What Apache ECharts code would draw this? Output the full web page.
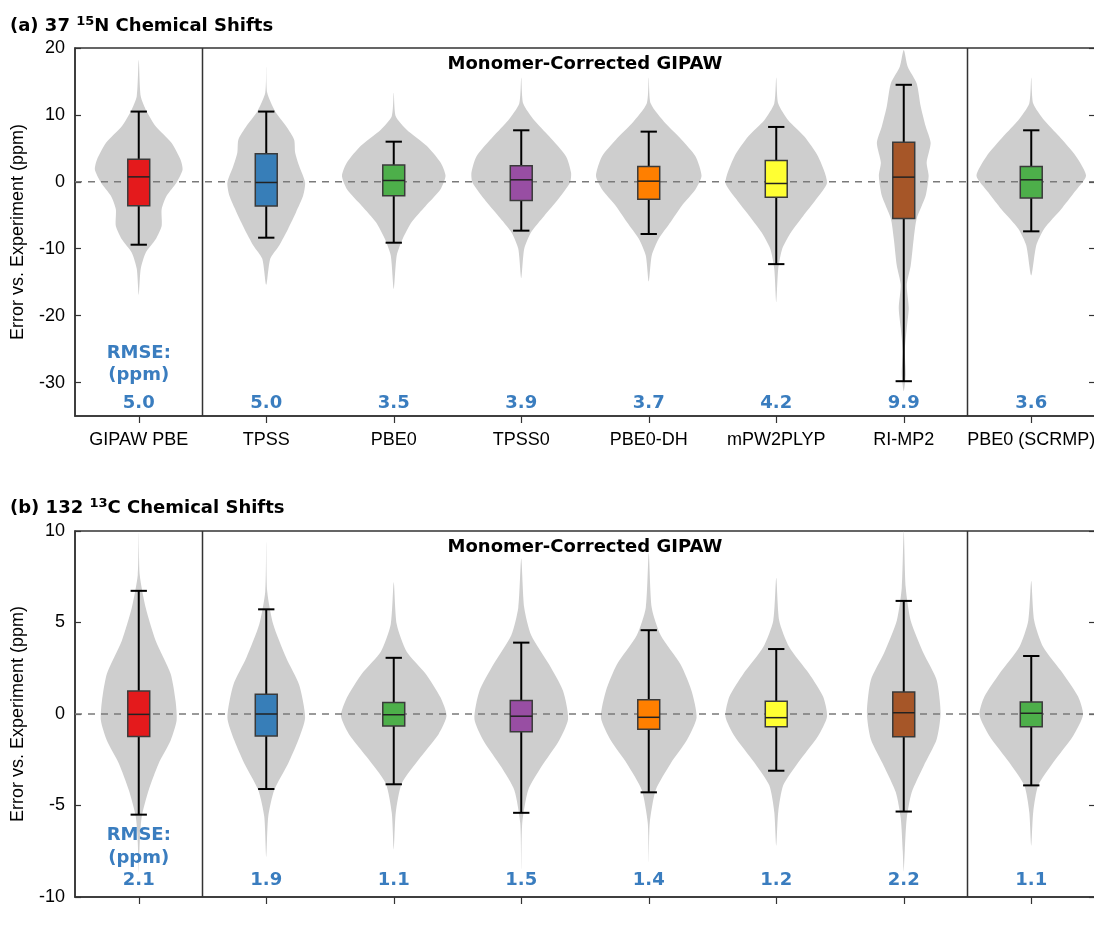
<!DOCTYPE html>
<html>
<head>
<meta charset="utf-8">
<script src="https://cdn.jsdelivr.net/npm/echarts@6/dist/echarts.min.js"></script>
<style>html,body{margin:0;padding:0;background:#fff}#c{width:1094px;height:935px}</style>
</head>
<body>
<div id="c"></div>
<script>
// ---------------- data ----------------
const categories = ['GIPAW PBE','TPSS','PBE0','TPSS0','PBE0-DH','mPW2PLYP','RI-MP2','PBE0 (SCRMP)'];
const yTicksN = [-30,-20,-10,0,10,20];
const yTicksC = [-10,-5,0,5,10];

// box stats: [lower whisker, Q1, median, Q3, upper whisker]
const boxN = [
  [-9.4,-3.56,0.74,3.37,10.5],
  [-8.35,-3.6,-0.1,4.2,10.5],
  [-9.1,-2.1,0.2,2.5,6.0],
  [-7.3,-2.8,0.3,2.4,7.7],
  [-7.8,-2.6,0.1,2.3,7.5],
  [-12.3,-2.3,-0.25,3.2,8.2],
  [-29.8,-5.5,0.7,5.9,14.5],
  [-7.4,-2.4,0.3,2.3,7.7]
];
const boxC = [
  [-5.5,-1.23,-0.02,1.26,6.73],
  [-4.1,-1.2,0.0,1.08,5.72],
  [-3.84,-0.65,-0.04,0.63,3.07],
  [-5.4,-0.97,-0.12,0.74,3.9],
  [-4.28,-0.83,-0.18,0.78,4.58],
  [-3.1,-0.69,-0.2,0.69,3.55],
  [-5.33,-1.24,0.07,1.2,6.18],
  [-3.9,-0.7,0.04,0.65,3.17]
];
const rmseN = [5.0,5.0,3.5,3.9,3.7,4.2,9.9,3.6];
const rmseC = [2.1,1.9,1.1,1.5,1.4,1.2,2.2,1.1];

// violin profiles: [value (ppm), relative density (half-width in 1/128 of a category band)]
const violinN = [
  [[18.2,0],[12.8,2],[10.5,8],[8.3,17],[5.8,33],[3.3,42],[1.8,44],[-0.1,38],[-2.1,28],[-4.1,23],[-6.6,23],[-8.6,17],[-10.6,7],[-13.0,2],[-16.9,0]],
  [[17.2,0],[13.3,1],[10.5,9],[8.3,20],[6.3,28],[4.4,29],[2.4,33],[-0.1,39],[-2.1,37],[-4.5,30],[-7,22],[-9.5,13],[-11.5,4],[-15.4,0]],
  [[13.3,0],[9.8,2],[7.8,13],[5.4,33],[2.9,47],[0.9,52],[-1.1,47],[-3.6,32],[-6.0,18],[-8.5,9],[-11,3],[-16,0]],
  [[15.6,0],[11.7,2],[9.2,13],[6.8,28],[3.8,45],[1.4,50],[-0.1,49],[-2.6,37],[-5.1,23],[-7.5,10],[-10,3],[-14.4,0]],
  [[15.6,0],[11.7,2],[8.7,17],[6.3,33],[3.8,47],[0.9,53],[-1.1,47],[-3.6,33],[-6.0,22],[-8.5,10],[-11,3],[-14.9,0]],
  [[15.6,0],[11.7,2],[9.2,12],[6.8,28],[3.8,42],[-0.1,51],[-2.6,40],[-5.1,27],[-7.5,15],[-10,6],[-13,2],[-18,0]],
  [[19.7,0],[17.2,4],[14.7,13],[11.3,17],[8.3,22],[5.8,27],[2.9,23],[0.9,25],[-2.1,22],[-5.5,13],[-8.5,10],[-12.5,7],[-15.4,3],[-18.9,5],[-21.9,3],[-25.3,1],[-28.8,2],[-31.3,0]],
  [[15.6,0],[11.7,2],[9.2,13],[6.8,28],[3.8,45],[0.9,55],[-1.6,43],[-4.1,30],[-7,13],[-9.5,5],[-14,0]]
];
const violinC = [
  [[9.9,0],[7.6,1],[5.8,7],[4.0,17],[2.2,32],[0.7,37],[-0.36,38],[-1.45,32],[-2.7,20],[-4.15,10],[-5.6,3],[-7.0,1],[-8.7,0]],
  [[9.4,0],[6.7,1],[4.9,7],[3.07,20],[1.6,33],[-0.2,39],[-1.45,32],[-2.7,22],[-4.15,8],[-5.6,2],[-7.8,0]],
  [[7.2,0],[4.9,3],[3.4,13],[2.2,32],[0.9,47],[-0.1,53],[-1.1,45],[-2.35,27],[-3.8,8],[-5.4,2],[-7.4,0]],
  [[8.5,0],[5.8,3],[4.3,10],[2.7,28],[1.26,42],[-0.27,47],[-1.45,38],[-2.9,20],[-4.15,7],[-5.96,1],[-8.5,0]],
  [[8.8,0],[5.8,3],[4.3,12],[2.7,32],[1.26,43],[-0.2,48],[-1.45,38],[-2.7,22],[-4.15,7],[-5.96,1],[-8.1,0]],
  [[7.45,0],[5.1,3],[3.66,13],[2.2,33],[0.95,47],[-0.13,51],[-1.2,42],[-2.65,22],[-3.9,7],[-5.36,2],[-7.2,0]],
  [[10,0],[6.9,2],[5.1,7],[3.3,20],[1.86,33],[0.05,37],[-1.4,33],[-2.84,20],[-4.28,8],[-5.7,3],[-7.5,1],[-8.6,0]],
  [[7.27,0],[5.1,3],[3.66,12],[2.2,32],[0.95,47],[-0.04,52],[-1.2,42],[-2.65,22],[-3.9,7],[-5.36,2],[-7.2,0]]
];

// ---------------- styles ----------------
const boxColors = ['#e41a1c','#377eb8','#4daf4a','#984ea3','#ff7f00','#ffff33','#a65628','#4daf4a'];
const RMSE_COLOR = '#3a7dbf';
const AXIS_COLOR = '#333';
const VIOLIN_COLOR = '#cecece';
const LABEL_FONT = '"Liberation Sans", Arial, sans-serif';
const BOLD_FONT = '"DejaVu Sans", sans-serif';

const chart = echarts.init(document.getElementById('c'), null, {renderer:'canvas'});

function violinRender(profiles) {
  return function (params, api) {
    const i = api.value(0);
    const prof = profiles[i];
    const bw = api.size([1, 0])[0];
    const cx = api.coord([i, 0])[0];
    const left = [], right = [];
    prof.forEach(function (p) {
      const y = api.coord([i, p[0]])[1];
      const w = p[1] / 128 * bw;
      left.push([cx - w, y]);
      if (p[1] > 0) right.push([cx + w, y]);
    });
    const pts = left.concat(right.reverse());
    return {type:'polygon', shape:{points: pts, smooth: 0.22}, style:{fill: VIOLIN_COLOR}, silent:true};
  };
}

function boxRender(stats) {
  return function (params, api) {
    const i = api.value(0);
    const s = stats[i];
    const bw = api.size([1, 0])[0];
    const cx = api.coord([i, 0])[0];
    const Y = function (v) { return api.coord([i, v])[1]; };
    const hb = bw * 0.086, hc = bw * 0.064;
    const wl = {stroke:'#000', lineWidth:2};
    return {type:'group', children:[
      {type:'line', shape:{x1:cx, y1:Y(s[0]), x2:cx, y2:Y(s[1])}, style:wl},
      {type:'line', shape:{x1:cx, y1:Y(s[3]), x2:cx, y2:Y(s[4])}, style:wl},
      {type:'line', shape:{x1:cx-hc, y1:Y(s[0]), x2:cx+hc, y2:Y(s[0])}, style:wl},
      {type:'line', shape:{x1:cx-hc, y1:Y(s[4]), x2:cx+hc, y2:Y(s[4])}, style:wl},
      {type:'rect', shape:{x:cx-hb, y:Y(s[3]), width:2*hb, height:Y(s[1])-Y(s[3])},
        style:{fill: boxColors[i], stroke:'#3a3a3a', lineWidth:1.5}},
      {type:'line', shape:{x1:cx-hb, y1:Y(s[2]), x2:cx+hb, y2:Y(s[2])}, style:{stroke:'#222', lineWidth:1.5}}
    ]};
  };
}

function refRender(params, api) {
  const cs = params.coordSys;
  const x0 = api.coord([0, 0])[0], x1 = api.coord([1, 0])[0];
  const x6 = api.coord([6, 0])[0], x7 = api.coord([7, 0])[0];
  const y0 = api.coord([0, 0])[1];
  return {type:'group', children:[
    {type:'line', shape:{x1:cs.x, y1:y0, x2:cs.x+cs.width, y2:y0}, style:{stroke:'#7a7a7a', lineWidth:1.5, lineDash:[7,6]}},
    {type:'line', shape:{x1:(x0+x1)/2, y1:cs.y, x2:(x0+x1)/2, y2:cs.y+cs.height}, style:{stroke:AXIS_COLOR, lineWidth:1.5}},
    {type:'line', shape:{x1:(x6+x7)/2, y1:cs.y, x2:(x6+x7)/2, y2:cs.y+cs.height}, style:{stroke:AXIS_COLOR, lineWidth:1.5}}
  ]};
}

function textRender(rmse, offV, offR, offP) {
  return function (params, api) {
    const cs = params.coordSys;
    const bottom = cs.y + cs.height;
    const ts = {fill: RMSE_COLOR, font: 'bold 18px ' + BOLD_FONT, align:'center', verticalAlign:'middle'};
    const ch = [];
    rmse.forEach(function (r, i) {
      const cx = api.coord([i, 0])[0];
      ch.push({type:'text', x:cx, y:bottom-offV, style:Object.assign({text:r.toFixed(1)}, ts)});
    });
    const c0 = api.coord([0, 0])[0];
    ch.push({type:'text', x:c0, y:bottom-offR, style:Object.assign({text:'RMSE:'}, ts)});
    ch.push({type:'text', x:c0, y:bottom-offP, style:Object.assign({text:'(ppm)'}, ts)});
    const c1 = api.coord([1, 0])[0], c6 = api.coord([6, 0])[0];
    ch.push({type:'text', x:(c1+c6)/2, y:cs.y+16, style:{text:'Monomer-Corrected GIPAW', fill:'#000', font:'bold 18px ' + BOLD_FONT, align:'center', verticalAlign:'middle'}});
    return {type:'group', children: ch};
  };
}

const idx = categories.map(function (c, i) { return [i, 0]; });

function xAxisDef(gridIndex, showLabels) {
  return {
    type:'category', gridIndex: gridIndex, data: categories, boundaryGap: true,
    axisLine:{show:true, onZero:false, lineStyle:{color:AXIS_COLOR, width:1.5}},
    axisTick:{show:true, alignWithLabel:true, length:7, inside:false, lineStyle:{color:AXIS_COLOR, width:1.2}},
    axisLabel:{show: showLabels, color:'#000', fontSize:18, fontFamily:LABEL_FONT, margin:15, interval:0, hideOverlap:false},
    splitLine:{show:false}
  };
}
function yAxisDef(gridIndex, min, max, ticks, left) {
  return {
    type:'value', gridIndex: gridIndex, min:min, max:max, position: left ? 'left' : 'right',
    name: left ? 'Error vs. Experiment (ppm)' : '', nameLocation:'middle', nameGap:48, nameRotate:90,
    nameTextStyle:{color:'#000', fontSize:18, fontFamily:LABEL_FONT},
    axisLine:{show:true, lineStyle:{color:AXIS_COLOR, width:1.5}},
    axisTick:{show:true, inside:true, length:6, customValues: ticks, lineStyle:{color:AXIS_COLOR, width:1.2}},
    axisLabel:{show: left, customValues: ticks, color:'#000', fontSize:18, fontFamily:LABEL_FONT, margin:10},
    splitLine:{show:false}
  };
}

const titleRich = {
  b:{fontSize:18, fontWeight:'bold', fontFamily:BOLD_FONT, color:'#000', lineHeight:22},
  s:{fontSize:13, fontWeight:'bold', fontFamily:BOLD_FONT, color:'#000', lineHeight:13, verticalAlign:'top'}
};

const option = {
  animation:false,
  backgroundColor:'#fff',
  title:[
    {left:10, top:15, padding:0, text:'{b|(a) 37 }{s|15}{b|N Chemical Shifts}', textStyle:{rich:titleRich}},
    {left:10, top:497, padding:0, text:'{b|(b) 132 }{s|13}{b|C Chemical Shifts}', textStyle:{rich:titleRich}}
  ],
  grid:[
    {left:75, top:48, width:1020, height:368, containLabel:false, outerBoundsMode:'none', show:true, borderColor:AXIS_COLOR, borderWidth:1.5, backgroundColor:'transparent'},
    {left:75, top:531, width:1020, height:366, containLabel:false, outerBoundsMode:'none', show:true, borderColor:AXIS_COLOR, borderWidth:1.5, backgroundColor:'transparent'}
  ],
  xAxis:[ xAxisDef(0, true), xAxisDef(1, false) ],
  yAxis:[
    yAxisDef(0, -35, 20, yTicksN, true),
    yAxisDef(0, -35, 20, yTicksN, false),
    yAxisDef(1, -10, 10, yTicksC, true),
    yAxisDef(1, -10, 10, yTicksC, false)
  ],
  series:[
    {type:'custom', xAxisIndex:0, yAxisIndex:0, z:2, data: idx, encode:{x:0, y:1}, renderItem: violinRender(violinN)},
    {type:'custom', xAxisIndex:0, yAxisIndex:0, z:3, data: [[0,0]], encode:{x:0, y:1}, renderItem: refRender},
    {type:'custom', xAxisIndex:0, yAxisIndex:0, z:4, data: idx, encode:{x:0, y:1}, renderItem: boxRender(boxN)},
    {type:'custom', xAxisIndex:0, yAxisIndex:0, z:5, data: [[0,0]], encode:{x:0, y:1}, renderItem: textRender(rmseN, 13, 63, 41)},
    {type:'custom', xAxisIndex:1, yAxisIndex:2, z:2, data: idx, encode:{x:0, y:1}, renderItem: violinRender(violinC)},
    {type:'custom', xAxisIndex:1, yAxisIndex:2, z:3, data: [[0,0]], encode:{x:0, y:1}, renderItem: refRender},
    {type:'custom', xAxisIndex:1, yAxisIndex:2, z:4, data: idx, encode:{x:0, y:1}, renderItem: boxRender(boxC)},
    {type:'custom', xAxisIndex:1, yAxisIndex:2, z:5, data: [[0,0]], encode:{x:0, y:1}, renderItem: textRender(rmseC, 17, 62, 39)}
  ]
};
chart.setOption(option);
</script>
</body>
</html>
